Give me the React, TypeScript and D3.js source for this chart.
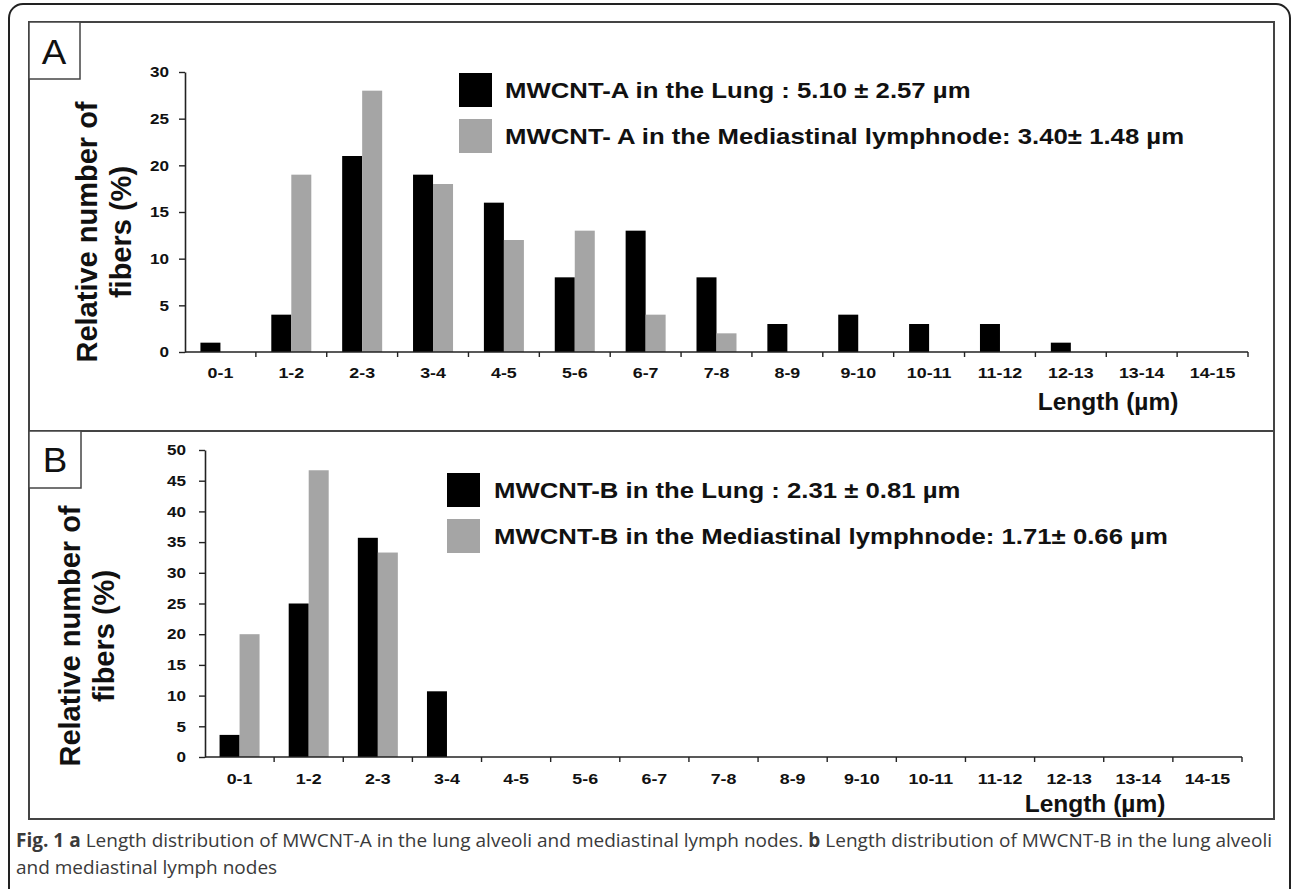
import * as d3 from "d3";
import { useRef, useEffect } from "react";

const W = 1292;
const H = 889;

const bins = ["0-1", "1-2", "2-3", "3-4", "4-5", "5-6", "6-7", "7-8", "8-9", "9-10", "10-11", "11-12", "12-13", "13-14", "14-15"];
const series = ["lung", "lymph"];
const lungA = [1, 4, 21, 19, 16, 8, 13, 8, 3, 4, 3, 3, 1, 0, 0];
const lymphA = [0, 19, 28, 18, 12, 13, 4, 2, 0, 0, 0, 0, 0, 0, 0];
const lungB = [3.6, 25, 35.7, 10.7, 0, 0, 0, 0, 0, 0, 0, 0, 0, 0, 0];
const lymphB = [20, 46.7, 33.3, 0, 0, 0, 0, 0, 0, 0, 0, 0, 0, 0, 0];
const ticksA = [0, 5, 10, 15, 20, 25, 30];
const ticksB = [0, 5, 10, 15, 20, 25, 30, 35, 40, 45, 50];
const legendA = ["MWCNT-A in the Lung : 5.10 \u00b1 2.57 \u00b5m", "MWCNT- A in the Mediastinal lymphnode: 3.40\u00b1 1.48 \u00b5m"];
const legendB = ["MWCNT-B in the Lung : 2.31 \u00b1 0.81 \u00b5m", "MWCNT-B in the Mediastinal lymphnode: 1.71\u00b1 0.66 \u00b5m"];
const colors = ["#000000", "#a5a5a5"];

const panels = [
  {
    tag: "A", lung: lungA, lymph: lymphA, ticks: ticksA, legend: legendA,
    box: [29, 22, 51, 57], tagX: 54, tagY: 64,
    xr: [185, 1248], yr: [352, 72], tickPad: 16,
    sqX: 459, sqY: [73, 119], txtX: 505,
    xlabY: 378, lenX: 1108, lenY: 410,
    titleY: 232, titleX: [97, 131], titleFs: 29,
  },
  {
    tag: "B", lung: lungB, lymph: lymphB, ticks: ticksB, legend: legendB,
    box: [29, 431, 52, 57], tagX: 55, tagY: 472,
    xr: [205, 1242], yr: [757, 450], tickPad: 19,
    sqX: 447, sqY: [473, 519], txtX: 494,
    xlabY: 784, lenX: 1095, lenY: 812,
    titleY: 636, titleX: [80, 114], titleFs: 29,
  },
];

const sans = "'Liberation Sans', Arial, sans-serif";

export default function App() {
  const svgRef = useRef<SVGSVGElement>(null);

  useEffect(() => {
    const svg = d3.select(svgRef.current);
    svg.selectAll("*").remove();

    // outer frame, figure box, panel divider
    svg.append("rect").attr("x", 9).attr("y", 4).attr("width", 1281).attr("height", 960)
      .attr("rx", 14).attr("fill", "none").attr("stroke", "#222").attr("stroke-width", 2);
    svg.append("rect").attr("x", 29).attr("y", 22).attr("width", 1245).attr("height", 797)
      .attr("fill", "none").attr("stroke", "#444").attr("stroke-width", 2);
    svg.append("line").attr("x1", 29).attr("x2", 1274).attr("y1", 431).attr("y2", 431)
      .attr("stroke", "#444").attr("stroke-width", 2);

    // text stretched horizontally like in the source figure
    const label = (g: any, x: number, yb: number, s: string, fs: number, sx: number, anchor = "start", weight = "bold") =>
      g.append("text").attr("transform", `translate(${x},${yb}) scale(${sx},1)`)
        .attr("text-anchor", anchor).attr("font-family", sans).attr("font-weight", weight)
        .attr("font-size", fs).attr("fill", "#111").text(s);

    panels.forEach(p => {
      const g = svg.append("g");
      const x0 = d3.scaleBand().domain(bins).range(p.xr as [number, number]);
      const pad = (x0.bandwidth() / 20 - 2) / 2;
      const x1 = d3.scaleBand().domain(series).range([0, x0.bandwidth()]).paddingInner(0).paddingOuter(pad);
      const y = d3.scaleLinear().domain([0, p.ticks[p.ticks.length - 1]]).range(p.yr as [number, number]);

      g.append("rect").attr("x", p.box[0]).attr("y", p.box[1]).attr("width", p.box[2]).attr("height", p.box[3])
        .attr("fill", "#fff").attr("stroke", "#444").attr("stroke-width", 1.5);
      label(g, p.tagX, p.tagY, p.tag, 35, 1.05, "middle", "normal");

      // bars
      bins.forEach((b, i) => {
        [p.lung[i], p.lymph[i]].forEach((v, k) => {
          if (v <= 0) return;
          g.append("rect")
            .attr("x", x0(b)! + x1(series[k])!)
            .attr("y", y(v))
            .attr("width", x1.bandwidth())
            .attr("height", y(0) - y(v))
            .attr("fill", colors[k]);
        });
      });

      // y axis
      const ya = g.append("g").attr("transform", `translate(${p.xr[0]},0)`)
        .call(d3.axisLeft(y).tickValues(p.ticks).tickSize(6).tickFormat(() => "").tickSizeOuter(0));
      ya.select(".domain").attr("stroke", "#222").attr("stroke-width", 1.6);
      ya.selectAll(".tick line").attr("stroke", "#222").attr("stroke-width", 1.4);
      p.ticks.forEach(t => label(g, p.xr[0] - p.tickPad, y(t) + 5.2, String(t), 14.5, 1.18, "end"));

      // x axis
      const base = y(0);
      g.append("line").attr("x1", p.xr[0]).attr("x2", p.xr[1]).attr("y1", base).attr("y2", base)
        .attr("stroke", "#222").attr("stroke-width", 1.6);
      g.selectAll(".xt").data(d3.range(1, bins.length + 1)).join("line")
        .attr("x1", i => p.xr[0] + i * x0.step()).attr("x2", i => p.xr[0] + i * x0.step())
        .attr("y1", base).attr("y2", base + 5).attr("stroke", "#222").attr("stroke-width", 1.4);
      bins.forEach(b => label(g, x0(b)! + x0.bandwidth() / 2, p.xlabY, b, 15.5, 1.15, "middle"));
      label(g, p.lenX, p.lenY, "Length (\u00b5m)", 24.5, 1, "middle");

      // y title
      const tt = g.append("text")
        .attr("transform", `translate(${p.titleX[0]},${p.titleY}) rotate(-90)`)
        .attr("text-anchor", "middle").attr("font-family", sans).attr("font-weight", "bold")
        .attr("font-size", p.titleFs).attr("fill", "#111");
      ["Relative number of", "fibers (%)"].forEach((s, i) => {
        tt.append("tspan").attr("x", 0).attr("y", i * (p.titleX[1] - p.titleX[0])).text(s);
      });

      // legend
      p.legend.forEach((s, k) => {
        g.append("rect").attr("x", p.sqX).attr("y", p.sqY[k]).attr("width", 33).attr("height", 34)
          .attr("fill", colors[k]);
        label(g, p.txtX, p.sqY[k] + 17 + 8, s, 22, 1.17);
      });
    });

    // caption
    const cap = svg.append("g").attr("font-family", "'Open Sans', 'Noto Sans', sans-serif")
      .attr("font-size", 19).attr("fill", "#3a3a3a");
    const l1 = cap.append("text").attr("x", 16).attr("y", 847);
    l1.append("tspan").attr("font-weight", "bold").text("Fig. 1 a");
    l1.append("tspan").text(" Length distribution of MWCNT-A in the lung alveoli and mediastinal lymph nodes. ");
    l1.append("tspan").attr("font-weight", "bold").text("b");
    l1.append("tspan").text(" Length distribution of MWCNT-B in the lung alveoli");
    const node = l1.node() as SVGTextElement;
    const wNat = node.getComputedTextLength();
    const spaces = (node.textContent || "").split(" ").length - 1;
    if (wNat < 1256) l1.attr("word-spacing", (1256 - wNat) / spaces);
    else l1.attr("textLength", 1256).attr("lengthAdjust", "spacingAndGlyphs");
    cap.append("text").attr("x", 16).attr("y", 874).text("and mediastinal lymph nodes");
  }, []);

  return (
    <svg ref={svgRef} width={W} height={H}
      style={{ position: "absolute", left: 0, top: 0, background: "#fff" }} />
  );
}
